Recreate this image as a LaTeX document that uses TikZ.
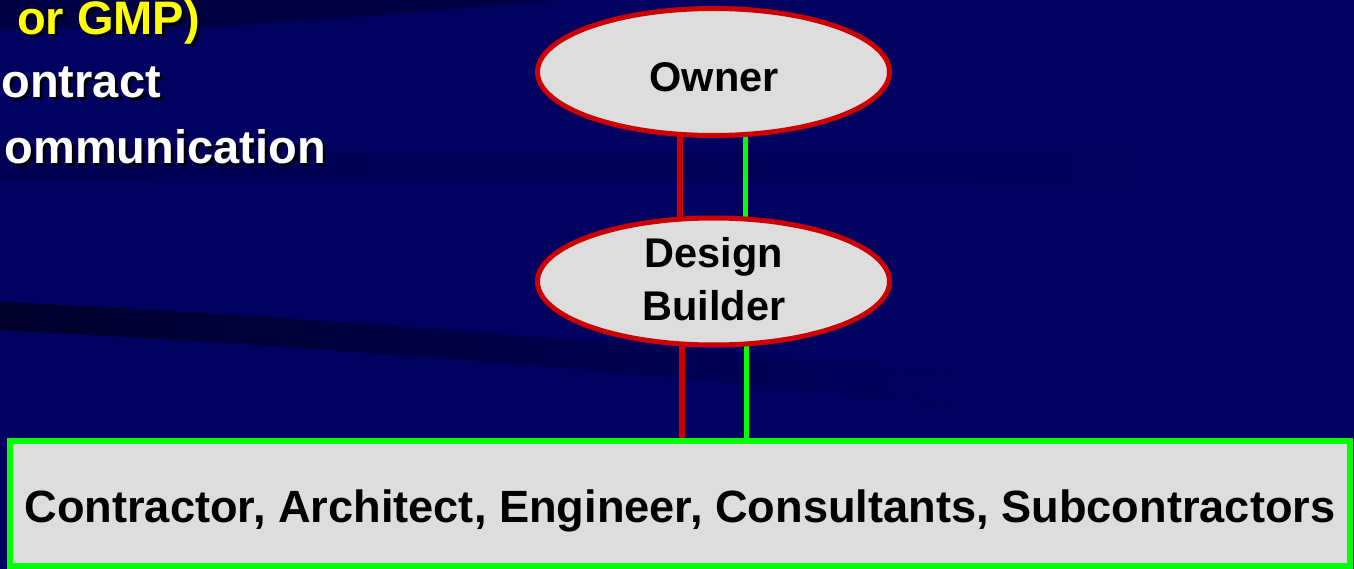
\documentclass[tikz,border=0pt]{standalone}
\usepackage{fontspec}
\setmainfont{Liberation Sans}
\usetikzlibrary{shapes.geometric,backgrounds}
\definecolor{bgblue}{RGB}{0,0,96}
\definecolor{bgband}{RGB}{0,0,82}
\definecolor{bgwedge}{RGB}{0,0,66}
\definecolor{bgdeep}{RGB}{0,0,44}
\definecolor{ovalfill}{RGB}{221,221,221}
\definecolor{ovalred}{RGB}{204,0,0}
\definecolor{brightgreen}{RGB}{0,255,0}
\definecolor{txtyellow}{RGB}{255,255,0}
\tikzset{
  oval/.style={ellipse, draw=ovalred, line width=5pt, fill=ovalfill,
    minimum width=352pt, minimum height=127pt, inner sep=0pt},
  ovaltext/.style={font=\fontsize{41.5}{53}\selectfont\bfseries, align=center, inner sep=0pt},
  greenbox/.style={draw=brightgreen, line width=5.7pt, fill=ovalfill,
    minimum width=1340pt, minimum height=125pt, inner sep=0pt,
    text height=37pt, text depth=0pt,
    font=\fontsize{45.2}{54}\selectfont\bfseries},
  redline/.style={draw=ovalred, line width=6pt},
  greenline/.style={draw=brightgreen, line width=5pt},
  headtext/.style={font=\fontsize{47}{56}\selectfont\bfseries, inner sep=0pt},
  shadowtext/.style={headtext, text=black, opacity=0.85}
}
\begin{document}
\begin{tikzpicture}[x=1pt,y=-1pt]
\useasboundingbox (0,0) rectangle (1354,569);
\begin{scope}[on background layer]
  \fill[bgblue] (0,0) rectangle (1354,569);
  % top dark wedge
  \fill[bgwedge] (0,0) -- (0,30) -- (200,28) .. controls (350,18) .. (560,0) -- cycle;
  % faint band behind third line
  \fill[left color=bgband, right color=bgblue!97!black] (0,152) rectangle (1135,181);
  % dark swoosh
  \fill[left color=bgdeep, right color=bgblue]
    (0,302) .. controls (300,317) and (600,340) .. (950,375)
    -- (950,403) .. controls (600,368) and (300,345) .. (0,330) -- cycle;
\end{scope}

% top-left text fragments
\node[shadowtext, anchor=base west] (s1) at (20,38) {or GMP)};
\node[headtext, text=txtyellow, anchor=base west] (t1) at (17,35) {or GMP)};
\node[shadowtext, anchor=base east] (s2) at (164,101) {ontract};
\node[headtext, text=white, anchor=base east] (t2) at (161,98) {ontract};
\node[shadowtext, anchor=base east] (s3) at (329,167) {ommunication};
\node[headtext, text=white, anchor=base east] (t3) at (326,164) {ommunication};

% diagram nodes
\node[oval] (owner) at (713.5,72) {};
\node[ovaltext, anchor=base] (ownerlbl) at (714,92) {Owner};
\node[oval] (db) at (713.5,281.5) {};
\node[ovaltext] (dblbl) at (714,279) {Design\\Builder};
\node[greenbox] (box) at (680,503.5) {Contractor, Architect, Engineer, Consultants, Subcontractors};

\begin{scope}[on background layer]
  \draw[redline] ([xshift=-33.5pt]owner.center) -- ([xshift=-33.5pt]db.center);
  \draw[greenline] ([xshift=31.5pt]owner.center) -- ([xshift=31.5pt]db.center);
  \draw[redline] ([xshift=-31.5pt]db.center) -- ([xshift=-31.5pt]db.center |- box.center);
  \draw[greenline] ([xshift=32.5pt]db.center) -- ([xshift=32.5pt]db.center |- box.center);
\end{scope}
\end{tikzpicture}
\end{document}
